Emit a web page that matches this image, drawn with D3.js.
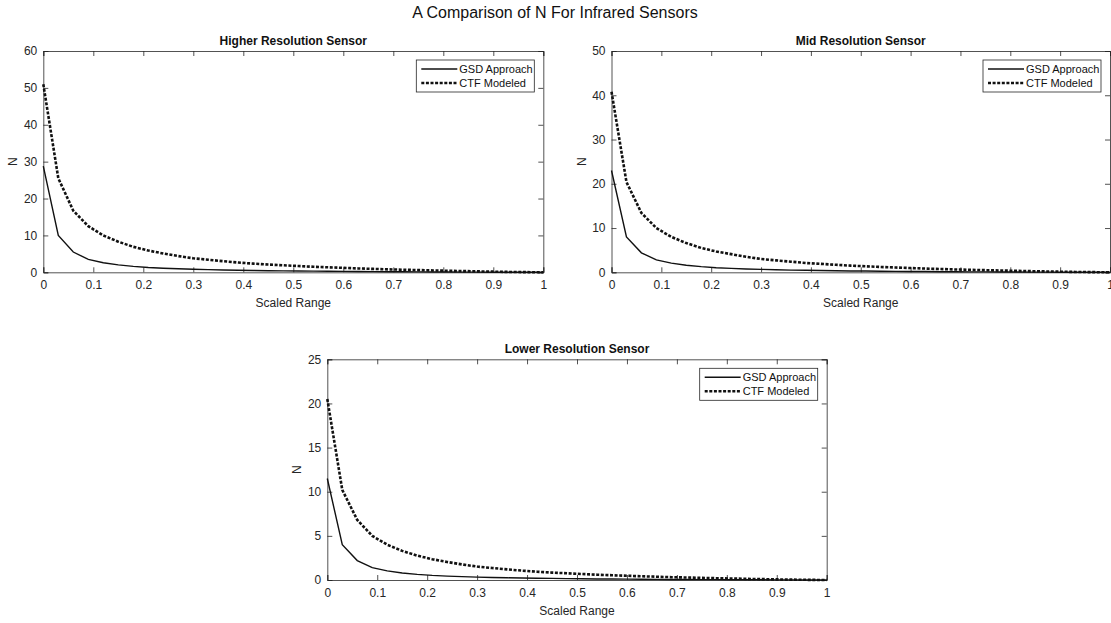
<!DOCTYPE html>
<html><head><meta charset="utf-8">
<script src="https://cdn.jsdelivr.net/npm/d3@7"></script>
<style>body{margin:0;background:#fff}svg{display:block;font-family:"Liberation Sans",Arial,sans-serif}</style>
</head><body>
<svg id="c" width="1111" height="623"></svg>
<script>
const xs = [0,0.03,0.06,0.09,0.12,0.15,0.18,0.21,0.24,0.27,0.30,0.33,0.36,0.39,0.42,0.45,0.48,0.51,0.54,0.57,0.60,0.63,0.66,0.69,0.72,0.75,0.78,0.81,0.84,0.87,0.90,0.93,0.96,0.99,1];
const gsdHigh = [28.8,10,5.5,3.5,2.6,2.0,1.6,1.3,1.1,0.95,0.82,0.72,0.63,0.56,0.5,0.44,0.39,0.35,0.31,0.27,0.24,0.21,0.18,0.15,0.13,0.11,0.09,0.07,0.05,0.04,0.03,0.02,0.01,0,0];
const ctfHigh = [51,25.5,16.7,12.5,10,8.3,6.9,5.9,5.1,4.4,3.8,3.4,3.0,2.65,2.35,2.1,1.9,1.7,1.5,1.35,1.2,1.05,0.92,0.8,0.7,0.6,0.5,0.42,0.33,0.25,0.17,0.1,0.05,0.01,0];
const gsdMid = [23,8,4.4,2.8,2.08,1.6,1.28,1.04,0.88,0.76,0.66,0.58,0.5,0.45,0.4,0.35,0.31,0.28,0.25,0.22,0.19,0.17,0.14,0.12,0.1,0.09,0.07,0.06,0.04,0.03,0.02,0.02,0.01,0,0];
const ctfMid = [40.8,20.4,13.4,10,8,6.6,5.5,4.7,4.1,3.5,3.0,2.7,2.4,2.1,1.9,1.7,1.5,1.36,1.2,1.08,0.96,0.84,0.74,0.64,0.56,0.48,0.4,0.34,0.26,0.2,0.14,0.08,0.04,0.01,0];
const gsdLow = [11.5,4,2.2,1.4,1.04,0.8,0.64,0.52,0.44,0.38,0.33,0.29,0.25,0.22,0.2,0.18,0.16,0.14,0.12,0.11,0.1,0.08,0.07,0.06,0.05,0.04,0.04,0.03,0.02,0.02,0.01,0.01,0,0,0];
const ctfLow = [20.5,10.2,6.8,5,4,3.3,2.76,2.36,2.04,1.76,1.52,1.36,1.2,1.06,0.94,0.84,0.76,0.68,0.6,0.54,0.48,0.42,0.37,0.32,0.28,0.24,0.2,0.17,0.13,0.1,0.07,0.04,0.02,0,0];
const xTicks = [0,0.1,0.2,0.3,0.4,0.5,0.6,0.7,0.8,0.9,1];
const yTicksHigh = [0,10,20,30,40,50,60];
const yTicksMid = [0,10,20,30,40,50];
const yTicksLow = [0,5,10,15,20,25];
const seriesNames = ["GSD Approach","CTF Modeled"];
const titles = ["Higher Resolution Sensor","Mid Resolution Sensor","Lower Resolution Sensor"];

const svg = d3.select("#c");
const axisCol = "#262626";
const txtCol = "#262626";

svg.append("text").attr("x",555).attr("y",18).attr("text-anchor","middle")
  .attr("font-size",16).attr("fill","#111").text("A Comparison of N For Infrared Sensors");

function panel(box, title, gsd, ctf, yMax, yTicks){
  const x = d3.scaleLinear().domain([0,1]).range([box.x0, box.x1]);
  const y = d3.scaleLinear().domain([0,yMax]).range([box.y1, box.y0]);
  const g = svg.append("g");
  g.append("rect").attr("x",box.x0).attr("y",box.y0).attr("width",box.x1-box.x0).attr("height",box.y1-box.y0)
    .attr("fill","#fff").attr("stroke","none");
  const tl = 5;
  // axes
  const ax = [
    g.append("g").attr("transform",`translate(0,${box.y1})`).call(d3.axisBottom(x).tickValues(xTicks).tickSize(-tl).tickPadding(8).tickFormat(d3.format("~g"))),
    g.append("g").attr("transform",`translate(0,${box.y0})`).call(d3.axisTop(x).tickValues(xTicks).tickSize(-tl).tickFormat("")),
    g.append("g").attr("transform",`translate(${box.x0},0)`).call(d3.axisLeft(y).tickValues(yTicks).tickSize(-tl).tickPadding(6)),
    g.append("g").attr("transform",`translate(${box.x1},0)`).call(d3.axisRight(y).tickValues(yTicks).tickSize(-tl).tickFormat(""))
  ];
  ax.forEach(a=>{
    a.select(".domain").attr("stroke",axisCol).attr("stroke-width",0.8);
    a.selectAll(".tick line").attr("stroke",axisCol).attr("stroke-width",0.8);
    a.selectAll(".tick text").attr("fill",txtCol).attr("font-size",12).attr("font-family","'Liberation Sans',Arial,sans-serif");
  });
  const line = d3.line().x((d,i)=>x(xs[i])).y(d=>y(d));
  g.append("path").datum(gsd).attr("d",line).attr("fill","none").attr("stroke","#111").attr("stroke-width",1.4);
  g.append("path").datum(ctf).attr("d",line).attr("fill","none").attr("stroke","#111").attr("stroke-width",2.6)
    .attr("stroke-dasharray","3,1.6");
  // title
  g.append("text").attr("x",(box.x0+box.x1)/2).attr("y",box.y0-6).attr("text-anchor","middle")
    .attr("font-size",12).attr("font-weight","bold").attr("fill","#111").text(title);
  // labels
  g.append("text").attr("x",(box.x0+box.x1)/2).attr("y",box.y1+35).attr("text-anchor","middle")
    .attr("font-size",12).attr("fill",txtCol).text("Scaled Range");
  g.append("text").attr("transform",`translate(${box.x0-26},${(box.y0+box.y1)/2}) rotate(-90)`).attr("text-anchor","middle")
    .attr("font-size",12).attr("fill",txtCol).text("N");
  // legend
  const lx = box.x1-127, ly = box.y0+9, lw=118, lh=32;
  const lg = g.append("g");
  lg.append("rect").attr("x",lx).attr("y",ly).attr("width",lw).attr("height",lh).attr("fill","#fff").attr("stroke",axisCol).attr("stroke-width",0.8);
  seriesNames.forEach((s,i)=>{
    const yy = ly+9+i*14;
    lg.append("line").attr("x1",lx+5).attr("x2",lx+41).attr("y1",yy).attr("y2",yy).attr("stroke","#111")
      .attr("stroke-width", i===0?1.4:2.6).attr("stroke-dasharray", i===0?null:"3,1.6");
    lg.append("text").attr("x",lx+43).attr("y",yy+4).attr("font-size",11).attr("fill","#111").text(s);
  });
}

panel({x0:43.3,x1:543.3,y0:51,y1:272.3}, titles[0], gsdHigh, ctfHigh, 60, yTicksHigh);
panel({x0:611.5,x1:1110,y0:51,y1:272.3}, titles[1], gsdMid, ctfMid, 50, yTicksMid);
panel({x0:327.3,x1:826.7,y0:359.3,y1:580}, titles[2], gsdLow, ctfLow, 25, yTicksLow);
</script>
</body></html>
